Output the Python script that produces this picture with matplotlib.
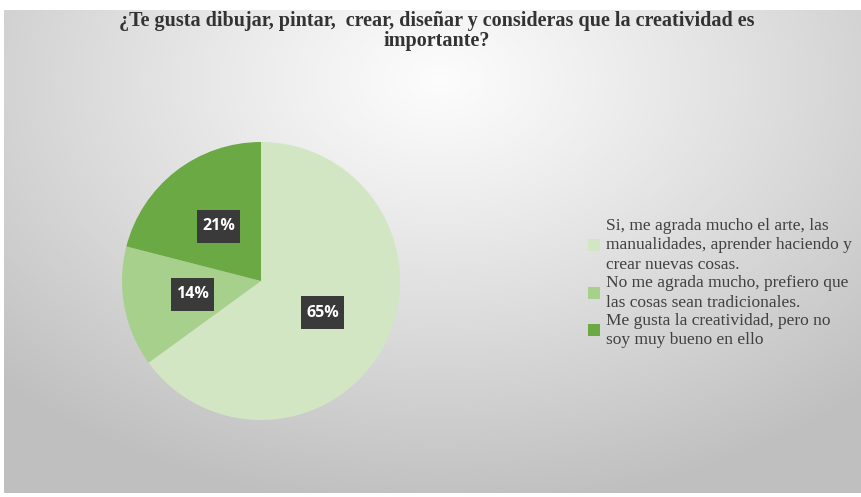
import numpy as np
import matplotlib
matplotlib.use("Agg")
import matplotlib.pyplot as plt
from matplotlib.patches import Patch, Rectangle

title = "¿Te gusta dibujar, pintar,  crear, diseñar y consideras que la creatividad es\nimportante?"
categories = [
    "Si, me agrada mucho el arte, las\nmanualidades, aprender haciendo y\ncrear nuevas cosas.",
    "No me agrada mucho, prefiero que\nlas cosas sean tradicionales.",
    "Me gusta la creatividad, pero no\nsoy muy bueno en ello",
]
values = [65, 14, 21]
colors = ["#d3e6c4", "#a8d08d", "#6aa944"]

W, H = 861, 497
fig = plt.figure(figsize=(W / 100, H / 100), dpi=100)
fig.patch.set_facecolor("white")

# background gradient (chart area)
bx0, by0, bx1, by1 = 4, 10, 861, 493
bg = fig.add_axes([bx0 / W, 1 - by1 / H, (bx1 - bx0) / W, (by1 - by0) / H])
bg.set_axis_off()
yy, xx = np.mgrid[by0:by1, bx0:bx1]
d = np.sqrt(((xx - 440) / 620.0) ** 2 + ((yy - 80) / 430.0) ** 2)
t = np.clip(d, 0, 1) ** 1.1
c0 = np.array([0.99, 0.99, 0.99])
c1 = np.array([0.75, 0.75, 0.75])
img = c0[None, None, :] * (1 - t[..., None]) + c1[None, None, :] * t[..., None]
bg.imshow(img, aspect="auto", extent=[0, 1, 0, 1], interpolation="bilinear")
bg.set_xlim(0, 1)
bg.set_ylim(0, 1)

# pie
cx, cy, r = 261, 281, 139
ax = fig.add_axes([(cx - r) / W, 1 - (cy + r) / H, 2 * r / W, 2 * r / H])
ax.set_axis_off()
wedges, _ = ax.pie(values, colors=colors, startangle=90, counterclock=False,
                   radius=1.0, wedgeprops=dict(linewidth=0))
ax.set_xlim(-1, 1)
ax.set_ylim(-1, 1)
bw, bh = 43 / r, 33 / r
for w, v in zip(wedges, values):
    ang = np.deg2rad((w.theta1 + w.theta2) / 2)
    x, y = 0.5 * np.cos(ang), 0.5 * np.sin(ang)
    ax.add_patch(Rectangle((x - bw / 2, y - bh / 2), bw, bh, facecolor="#3a3a3a",
                           edgecolor="none", zorder=3))
    ax.text(x, y, f"{v}%", ha="center", va="center", color="white", fontsize=11.5,
            fontweight="bold", family="Open Sans", zorder=4)

# title
fig.text(437 / W, 1 - 31 / H, title, ha="center", va="center", fontsize=14.5,
         fontweight="bold", family="Liberation Serif", color="#333333", linespacing=1.05)

# legend
handles = [Patch(facecolor=c, edgecolor="none") for c in colors]
leg = fig.legend(handles, categories, loc="center left",
                 bbox_to_anchor=(588 / W, 1 - 283 / H), frameon=False,
                 prop=dict(family="Liberation Serif", size=12.5),
                 handlelength=0.68, handleheight=0.68, handletextpad=0.35,
                 labelspacing=0.12, borderpad=0, borderaxespad=0)
for txt in leg.get_texts():
    txt.set_color("#404040")
    txt.set_linespacing(1.3)

fig.savefig("out.png", dpi=100)
